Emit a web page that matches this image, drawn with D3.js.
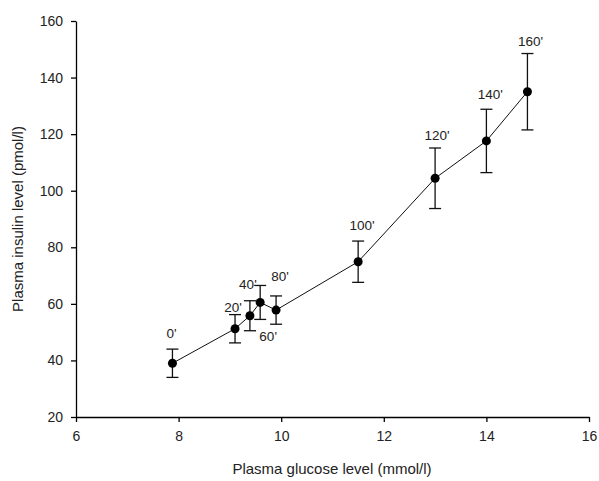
<!DOCTYPE html>
<html>
<head>
<meta charset="utf-8">
<script src="https://cdn.jsdelivr.net/npm/d3@7"></script>
<style>
  body { margin: 0; background: #fff; }
  text { font-family: "Liberation Sans", Arial, sans-serif; }
</style>
</head>
<body>
<svg id="chart" width="599" height="481"></svg>
<script>
// data
var timeLabels = ["0'", "20'", "40'", "60'", "80'", "100'", "120'", "140'", "160'"];
var glucose    = [7.88, 9.10, 9.39, 9.59, 9.90, 11.50, 13.00, 14.00, 14.80];
var insulin    = [39.0, 51.2, 55.8, 60.5, 57.8, 74.9, 104.4, 117.6, 135.0];
var insulinErr = [5.0, 5.0, 5.3, 6.0, 5.0, 7.3, 10.7, 11.2, 13.5];
var xTicks = [6, 8, 10, 12, 14, 16];
var yTicks = [20, 40, 60, 80, 100, 120, 140, 160];

var svg = d3.select("svg#chart"),
    margin = {top: 21, right: 10, bottom: 64, left: 76},
    width = +svg.attr("width") - margin.left - margin.right,
    height = +svg.attr("height") - margin.top - margin.bottom;

var g = svg.append("g")
    .attr("transform", "translate(" + margin.left + "," + margin.top + ")");

var x = d3.scaleLinear().domain([6, 16]).range([0, 513]);
var y = d3.scaleLinear().domain([20, 160]).range([396, 0]);

var data = timeLabels.map(function (t, i) {
    return {label: t, gx: glucose[i], iy: insulin[i], err: insulinErr[i]};
});

// label offsets relative to the point (only the crowded ones differ)
var labelOffset = {
    "0'":   [-1, -30],
    "20'":  [-2, -22],
    "40'":  [-2, -32],
    "60'":  [8, 34],
    "80'":  [4, -34],
    "100'": [4, -37],
    "120'": [2, -43],
    "140'": [4, -47],
    "160'": [3, -51]
};

var xAxis = g.append("g")
    .attr("transform", "translate(0," + 396 + ")")
    .call(d3.axisBottom(x).tickValues(xTicks).tickSize(5).tickSizeOuter(0).tickPadding(9));

var yAxis = g.append("g")
    .call(d3.axisLeft(y).tickValues(yTicks).tickSize(5).tickSizeOuter(0).tickPadding(8));

[xAxis, yAxis].forEach(function (a) {
    a.selectAll("path, line").attr("stroke", "#000").attr("stroke-width", 1.3);
    a.selectAll("text")
        .attr("fill", "#222")
        .style("font-size", "14px")
        .style("font-family", "'Liberation Sans', Arial, sans-serif");
});

svg.append("text")
    .attr("x", margin.left + 256)
    .attr("y", 474)
    .attr("text-anchor", "middle")
    .attr("fill", "#222")
    .style("font-size", "15px")
    .text("Plasma glucose level (mmol/l)");

svg.append("text")
    .attr("transform", "translate(23," + (margin.top + 198) + ")rotate(-90)")
    .attr("text-anchor", "middle")
    .attr("fill", "#222")
    .style("font-size", "15px")
    .text("Plasma insulin level (pmol/l)");

// connecting line
g.append("path")
    .datum(data)
    .attr("fill", "none")
    .attr("stroke", "#111")
    .attr("stroke-width", 1)
    .attr("d", d3.line()
        .x(function (d) { return x(d.gx); })
        .y(function (d) { return y(d.iy); }));

// error bars
var eb = g.selectAll(".err")
    .data(data)
    .enter()
    .append("g")
    .attr("class", "err")
    .attr("stroke", "#111")
    .attr("stroke-width", 1.3);

eb.append("line")
    .attr("x1", function (d) { return x(d.gx); })
    .attr("x2", function (d) { return x(d.gx); })
    .attr("y1", function (d) { return y(d.iy + d.err); })
    .attr("y2", function (d) { return y(d.iy - d.err); });

eb.append("line")
    .attr("x1", function (d) { return x(d.gx) - 6; })
    .attr("x2", function (d) { return x(d.gx) + 6; })
    .attr("y1", function (d) { return y(d.iy + d.err); })
    .attr("y2", function (d) { return y(d.iy + d.err); });

eb.append("line")
    .attr("x1", function (d) { return x(d.gx) - 6; })
    .attr("x2", function (d) { return x(d.gx) + 6; })
    .attr("y1", function (d) { return y(d.iy - d.err); })
    .attr("y2", function (d) { return y(d.iy - d.err); });

// markers
g.selectAll(".dot")
    .data(data)
    .enter()
    .append("circle")
    .attr("class", "dot")
    .attr("cx", function (d) { return x(d.gx); })
    .attr("cy", function (d) { return y(d.iy); })
    .attr("r", 4.5)
    .attr("fill", "#000");

// time labels
g.selectAll(".lbl")
    .data(data)
    .enter()
    .append("text")
    .attr("class", "lbl")
    .attr("x", function (d) { return x(d.gx) + labelOffset[d.label][0]; })
    .attr("y", function (d) { return y(d.iy) + labelOffset[d.label][1] + 5; })
    .attr("text-anchor", "middle")
    .attr("fill", "#222")
    .style("font-size", "13.5px")
    .text(function (d) { return d.label; });
</script>
</body>
</html>
